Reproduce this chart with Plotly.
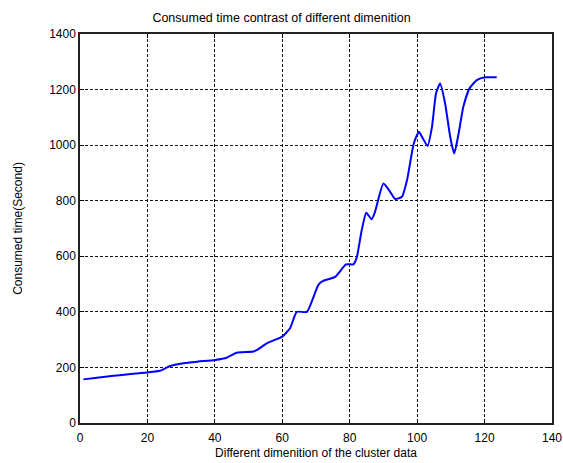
import plotly.graph_objects as go

dims = [1, 5, 10, 15, 20, 23.7, 26.7, 30.7, 35, 40, 43.5, 46.5, 51.4, 52.9, 55.4, 58, 60, 62.3, 64.3,
        67.3, 70.7, 72.2, 75.7, 78.9, 81.1, 82.1, 83.5, 84.9, 86.5, 87.5, 90, 92, 93.5, 95.5, 97,
        99, 100.5, 101.7, 103.1, 104.4, 105.6, 106.8, 108.3, 109.8, 111, 112.3, 113.7, 115.5,
        117.7, 120.2, 123.6]
times = [157, 163, 170, 176, 182, 188, 205, 215, 221, 227, 235, 253, 257, 266, 287, 300, 311, 341, 400,
         400, 497, 512, 526, 571, 571, 596, 690, 757, 733, 760, 862, 832, 806, 814, 874,
         1006, 1048, 1024, 997, 1066, 1186, 1222, 1150, 1030, 970, 1042, 1138, 1204,
         1234, 1244, 1244]

x_ticks = [0, 20, 40, 60, 80, 100, 120, 140]
y_ticks = [0, 200, 400, 600, 800, 1000, 1200, 1400]

FONT = "Liberation Sans, Arial, sans-serif"

fig = go.Figure()
fig.add_trace(go.Scatter(x=dims, y=times, mode="lines",
                         line=dict(color="#0000ff", width=2, shape="spline", smoothing=0.5),
                         showlegend=False))

axis_common = dict(
    showline=True, linecolor="#222222", linewidth=1.5, mirror="ticks",
    ticks="inside", ticklen=4, tickcolor="black",
    showgrid=True, gridcolor="#111111", gridwidth=1, griddash="3px,2px",
    zeroline=False, automargin=False,
    tickfont=dict(family=FONT, size=12, color="black"),
)

fig.update_xaxes(range=[0, 140], tickvals=x_ticks, ticklabelstandoff=3,
                 title=dict(text="Different dimenition of the cluster data", standoff=4,
                            font=dict(family=FONT, size=12, color="black")),
                 **axis_common)
fig.update_yaxes(range=[0, 1400], tickvals=y_ticks,
                 title=dict(text="Consumed time(Second)", standoff=24,
                            font=dict(family=FONT, size=12, color="black")),
                 **axis_common)

fig.update_layout(
    width=563, height=463,
    margin=dict(l=80, r=11, t=34, b=40),
    paper_bgcolor="white", plot_bgcolor="white",
    title=dict(text="Consumed time contrast of different dimenition", x=0.5, xanchor="center",
               y=1 - 18 / 463, yanchor="middle",
               font=dict(family=FONT, size=12.5, color="black")),
)

fig.write_html("out.html")
